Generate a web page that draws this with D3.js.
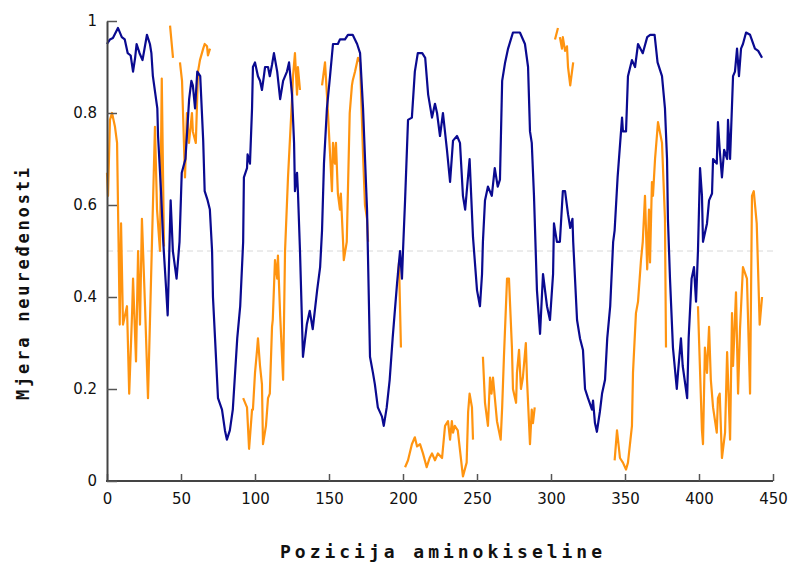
<!DOCTYPE html>
<html>
<head>
<meta charset="utf-8">
<script src="https://cdn.jsdelivr.net/npm/d3@7"></script>
<style>
  body { margin: 0; background: #fff; }
  text { font-family: "DejaVu Sans", sans-serif; }
</style>
</head>
<body>
<div id="container"></div>
<script>
// disorder score per residue position (blue predictor)
var bluePos = [0,2,4,7.4,10,12,14,16,17.6,19,20,22,24,27,29,30,31,34,34.5,36.5,38,40,41,43,44.5,47,49,50.5,53,55.5,57,58,59.5,61,63,65,66,68,69.5,71,71.6,73,75,77.7,79.7,81,83,85,88,90,92,92.5,94.6,95,96.6,98,98.6,100,102,103.4,104.7,106,106.8,108.8,110,111.5,112.8,115,117,119,121.6,123,125,126.4,127,128.4,129,130.4,131.8,132.4,135,137,139,142,144,145.3,146.6,148.6,150.7,152.7,156,157.4,160.8,162.8,166,169,171,173,175.7,177.7,179.7,181,183,185.8,187,189,191,193,196,198,199.3,200,201.4,203.4,206,208,210,213,215,217,219.6,221.6,223,225,227,229.7,231.8,233.8,236.5,238.5,240.5,242,245,247.3,250,252,253.4,254,255.4,257.4,260,262,264,265.5,267,269,271,274.3,279,282.4,284.5,285.8,287,288.5,290.5,292.6,294.6,297.3,299.3,301.4,302,304,306,308,309.5,311.5,313,314.5,315,317.6,319.6,321.6,323,325,327.7,328.4,329.7,331,333,334.5,336.5,338,340,342,343,345,348,348.6,350.7,352,354.7,356.8,358.8,362,365,367,370,372,375,377,378.4,379,380.4,382.4,385,385.8,387.8,389,392,393,395,396.6,398,399.3,400.7,402,402.7,405.4,406.8,408.8,409.5,412,412.8,414,415.5,417,419,419.6,421,423,424.3,425.7,427,428.4,429.7,431.8,434.5,437.8,440,442.6];
var blueVal = [0.95,0.96,0.963,0.985,0.965,0.96,0.93,0.925,0.89,0.92,0.95,0.93,0.915,0.97,0.95,0.93,0.88,0.81,0.75,0.63,0.52,0.415,0.36,0.61,0.50,0.44,0.52,0.67,0.70,0.83,0.87,0.86,0.81,0.89,0.88,0.74,0.63,0.61,0.59,0.50,0.40,0.31,0.18,0.155,0.11,0.09,0.11,0.155,0.31,0.38,0.52,0.66,0.68,0.71,0.69,0.81,0.90,0.91,0.88,0.87,0.85,0.88,0.90,0.90,0.88,0.905,0.93,0.89,0.83,0.87,0.89,0.91,0.84,0.735,0.63,0.67,0.63,0.50,0.34,0.27,0.34,0.37,0.33,0.415,0.465,0.545,0.69,0.81,0.88,0.95,0.95,0.96,0.96,0.97,0.97,0.95,0.93,0.81,0.59,0.27,0.235,0.21,0.16,0.14,0.12,0.16,0.22,0.31,0.43,0.50,0.44,0.50,0.61,0.785,0.79,0.89,0.93,0.93,0.92,0.84,0.79,0.82,0.80,0.75,0.80,0.72,0.65,0.74,0.75,0.735,0.62,0.59,0.70,0.53,0.415,0.38,0.45,0.52,0.61,0.64,0.62,0.68,0.64,0.655,0.87,0.91,0.94,0.975,0.975,0.95,0.90,0.76,0.735,0.62,0.415,0.32,0.45,0.38,0.35,0.45,0.56,0.52,0.52,0.63,0.63,0.58,0.55,0.57,0.52,0.35,0.31,0.285,0.20,0.18,0.155,0.175,0.126,0.107,0.15,0.19,0.22,0.31,0.38,0.52,0.545,0.66,0.79,0.76,0.76,0.88,0.915,0.90,0.95,0.93,0.965,0.97,0.97,0.91,0.88,0.81,0.70,0.57,0.44,0.29,0.20,0.235,0.31,0.25,0.18,0.31,0.44,0.465,0.39,0.50,0.68,0.62,0.52,0.56,0.61,0.625,0.70,0.69,0.78,0.72,0.66,0.72,0.70,0.785,0.70,0.88,0.89,0.94,0.88,0.94,0.95,0.975,0.97,0.94,0.935,0.92];

// orange predictor, null = gap in the prediction
var orangePos = [0,0.7,2,3.4,5.4,6.8,7.8,8.6,9.5,10.8,13.5,15,17,17.6,19.6,21,22.3,23.6,25.7,27.7,30.4,32.4,33.8,35.8,37,38.5,40,
  42.6,44.6,46,
  49.3,50.7,52.7,54,55.4,57.4,58,60,61.5,62.8,65,66,67.6,68.2,69.6,71,
  92,94.6,96,98,98.6,100,101.4,102,103.4,104.7,105.4,107.4,108.8,110,111.5,112,113.5,115,115.5,117,119,120.3,122.3,125,125.7,127,128.4,129,130.4,132,
  145.3,147.3,148.6,149.3,152,152.7,154,154.7,156,157.4,158,159.5,160,162,164,165.5,166,167.6,169.6,171,173,174.3,175.7,176.4,178,
  196.6,197.3,198.6,200,
  201.4,203.4,206,208,209.5,211.5,213.5,216,218,219.6,221.6,223.6,226.4,228.4,230.4,231.8,233,233.8,235,237,240.5,243,244,245,246.6,247.3,250,
  254,255.4,257.4,258.8,259.8,260.8,263.5,266,267,268.2,270.3,271.6,273.6,274.3,276.4,277,278.4,279.7,281,283,283.8,285.8,287,287.8,289,291,
  302.7,304.7,305.3,
  306,307.4,308,309.5,310.8,311.5,313,315,317,
  343,344.6,346.6,348.6,350.7,352,354.7,355.4,357.4,358.8,360.8,362,363.5,365,366.2,366.9,368.2,368.9,370.3,372.3,375,377,377.7,379,
  399.3,402,402.7,404,405.4,406.8,408,409.5,412,412.8,414,415.5,417.6,419,421,422.3,423,425,426.4,427.7,429.7,432.4,434.5,435.8,437,439,441,442.6];
var orangeVal = [0.67,0.62,0.785,0.80,0.77,0.735,0.52,0.34,0.56,0.34,0.38,0.19,0.37,0.44,0.26,0.50,0.34,0.57,0.38,0.18,0.52,0.77,0.59,0.50,0.875,0.51,null,
  0.99,0.92,null,
  0.91,0.87,0.66,0.80,0.735,0.80,0.76,0.735,0.89,0.915,0.94,0.95,0.945,0.925,0.94,null,
  0.18,0.16,0.07,0.155,0.155,0.235,0.285,0.31,0.25,0.21,0.08,0.12,0.18,0.19,0.335,0.35,0.48,0.44,0.49,0.36,0.22,0.50,0.66,0.83,0.88,0.93,0.84,0.90,0.85,null,
  0.86,0.91,0.84,0.80,0.63,0.735,0.69,0.735,0.625,0.59,0.625,0.52,0.48,0.52,0.80,0.86,0.87,0.89,0.92,0.91,0.71,0.60,0.57,0.52,null,
  0.45,0.475,0.29,null,
  0.03,0.045,0.08,0.095,0.075,0.08,0.06,0.03,0.05,0.06,0.045,0.06,0.05,0.12,0.13,0.09,0.13,0.105,0.12,0.11,0.01,0.04,0.15,0.19,0.16,0.09,null,
  0.27,0.17,0.12,0.225,0.19,0.225,0.13,0.09,0.16,0.27,0.44,0.44,0.29,0.20,0.17,0.235,0.285,0.20,0.225,0.30,0.22,0.08,0.155,0.126,0.16,null,
  0.96,0.985,null,
  0.965,0.94,0.965,0.935,0.945,0.90,0.86,0.91,null,
  0.045,0.11,0.05,0.04,0.025,0.04,0.12,0.235,0.365,0.39,0.48,0.52,0.62,0.46,0.59,0.475,0.65,0.62,0.70,0.78,0.735,0.57,0.29,null,
  0.38,0.11,0.08,0.29,0.235,0.335,0.22,0.16,0.105,0.18,0.19,0.05,0.105,0.28,0.09,0.365,0.25,0.41,0.19,0.33,0.465,0.44,0.19,0.62,0.63,0.56,0.34,0.40];

var xTicks = [0,50,100,150,200,250,300,350,400,450];
var yTicks = [0,0.2,0.4,0.6,0.8,1];
var thresholdVal = [0.5];
var xTitle = "Pozicija aminokiseline";
var yTitle = "Mjera neuređenosti";

(function()
{
	var W = 796, H = 567;
	var left = 107, right = 773, top = 21, bottom = 481;

	var svg = d3.select("#container").append("svg")
		.attr("width", W)
		.attr("height", H);

	var x = d3.scaleLinear().domain([0, 450]).range([left, right]);
	var y = d3.scaleLinear().domain([0, 1]).range([bottom, top]);

	// dashed 0.5 threshold
	svg.selectAll()
		.data(thresholdVal)
		.enter().append("line")
		.attr("x1", left).attr("x2", right)
		.attr("y1", function(d){ return y(d); })
		.attr("y2", function(d){ return y(d); })
		.style("stroke", "#d8d8d8")
		.style("stroke-width", "1px")
		.style("stroke-dasharray", "6,4");

	// series
	var blueData = bluePos.map(function(p, i){ return [p, blueVal[i]]; });
	var orangeData = orangePos.map(function(p, i){ return [p, orangeVal[i]]; });

	var line = d3.line()
		.defined(function(d){ return d[1] !== null; })
		.x(function(d){ return x(d[0]); })
		.y(function(d){ return y(d[1]); });

	svg.append("path")
		.attr("d", line(orangeData))
		.attr("fill", "none")
		.attr("stroke", "#ff9410")
		.attr("stroke-width", 2.2)
		.attr("stroke-linejoin", "round");

	svg.append("path")
		.attr("d", line(blueData))
		.attr("fill", "none")
		.attr("stroke", "#0a0a90")
		.attr("stroke-width", 2.2)
		.attr("stroke-linejoin", "round");

	// axes, ticks pointing inward
	var xAxis = svg.append("g")
		.attr("transform", "translate(0," + bottom + ")")
		.call(d3.axisBottom(x).tickValues(xTicks).tickSizeInner(-7).tickSizeOuter(0).tickPadding(12));
	var yAxis = svg.append("g")
		.attr("transform", "translate(" + left + ",0)")
		.call(d3.axisLeft(y).tickValues(yTicks).tickSizeInner(-10).tickSizeOuter(0).tickPadding(10)
			.tickFormat(function(d){ return d === 0 || d === 1 ? d : d3.format(".1f")(d); }));

	[xAxis, yAxis].forEach(function(a)
	{
		a.select(".domain").attr("stroke", "#444").attr("stroke-width", 2);
		a.selectAll(".tick line").attr("stroke", "#555").attr("stroke-width", 1.5);
		a.selectAll(".tick text")
			.style("font-family", "'DejaVu Sans', sans-serif")
			.style("font-size", "15px")
			.attr("fill", "#111");
	});
	xAxis.select(".domain").attr("d", "M" + (left - 1) + ",0H" + right);

	// axis titles (monospace bold, stretched to the reference width)
	svg.append("text")
		.attr("x", (left + right) / 2 + 1)
		.attr("y", 558)
		.attr("text-anchor", "middle")
		.attr("textLength", 322)
		.attr("lengthAdjust", "spacing")
		.style("font-family", "'DejaVu Sans Mono', monospace")
		.style("font-size", "18px")
		.style("font-weight", "bold")
		.attr("fill", "#111")
		.text(xTitle);

	svg.append("text")
		.attr("transform", "translate(29," + 284 + ") rotate(-90)")
		.attr("text-anchor", "middle")
		.attr("textLength", 232)
		.attr("lengthAdjust", "spacing")
		.style("font-family", "'DejaVu Sans Mono', monospace")
		.style("font-size", "17px")
		.style("font-weight", "bold")
		.attr("fill", "#111")
		.text(yTitle);
})();
</script>
</body>
</html>
